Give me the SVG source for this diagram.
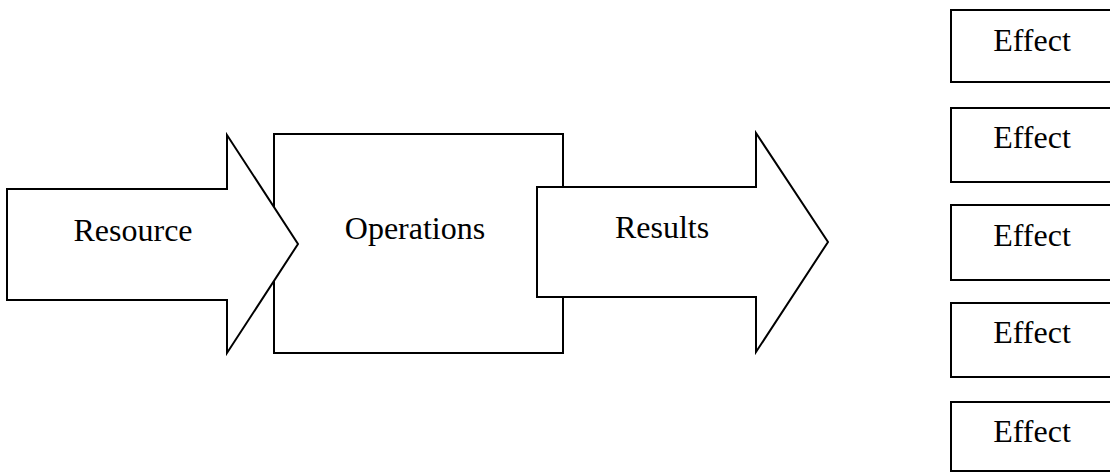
<svg xmlns="http://www.w3.org/2000/svg" width="1110" height="472" viewBox="0 0 1110 472">
  <style>
    .shape { fill: #ffffff; stroke: #000000; stroke-width: 2; stroke-linejoin: miter; }
    .label { font-family: "Liberation Serif", "Times New Roman", serif; font-size: 32px; fill: #000000; text-anchor: middle; }
  </style>
  <rect width="1110" height="472" fill="#ffffff"/>

  <!-- process box sits underneath the two block arrows -->
  <g id="operations">
    <rect class="shape" x="274" y="134" width="289" height="219"/>
    <text class="label" x="415" y="239">Operations</text>
  </g>

  <g id="resource">
    <polygon class="shape" points="7,189 227,189 227,135 298,244 227,353 227,300 7,300"/>
    <text class="label" x="133" y="241">Resource</text>
  </g>

  <g id="results">
    <polygon class="shape" points="537,187 756,187 756,133 828,242 756,352 756,297 537,297"/>
    <text class="label" x="662" y="238">Results</text>
  </g>

  <!-- column of effect boxes, running off the right edge -->
  <g id="effect-1">
    <rect class="shape" x="951" y="10" width="180" height="72"/>
    <text class="label" x="1032" y="51">Effect</text>
  </g>
  <g id="effect-2">
    <rect class="shape" x="951" y="108" width="180" height="74"/>
    <text class="label" x="1032" y="148">Effect</text>
  </g>
  <g id="effect-3">
    <rect class="shape" x="951" y="205" width="180" height="75"/>
    <text class="label" x="1032" y="246">Effect</text>
  </g>
  <g id="effect-4">
    <rect class="shape" x="951" y="303" width="180" height="74"/>
    <text class="label" x="1032" y="343">Effect</text>
  </g>
  <g id="effect-5">
    <rect class="shape" x="951" y="402" width="180" height="69"/>
    <text class="label" x="1032" y="442">Effect</text>
  </g>
</svg>
